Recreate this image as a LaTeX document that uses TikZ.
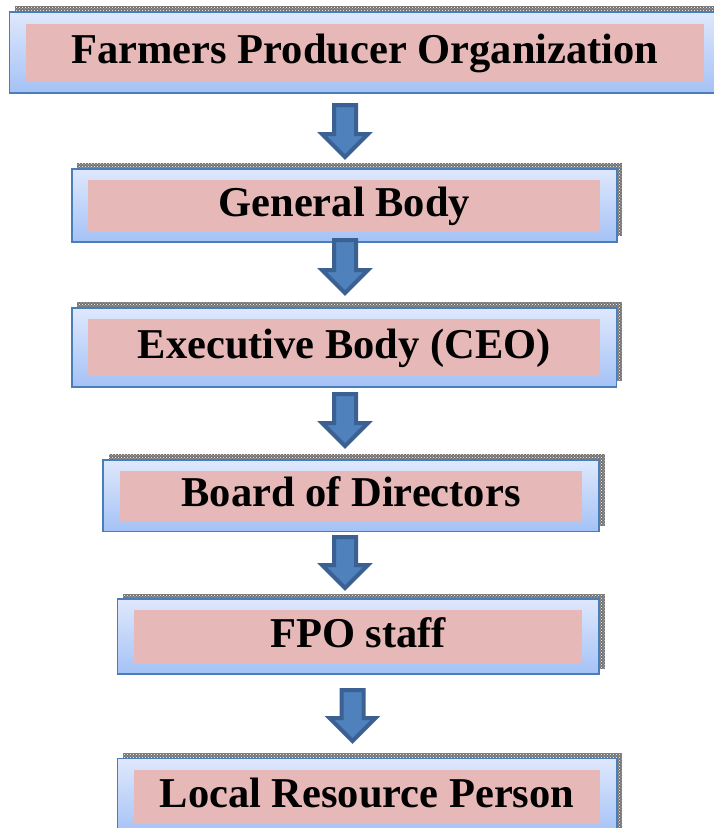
\documentclass[tikz,border=0pt]{standalone}
\usepackage{fontspec}
\setmainfont{Liberation Serif}
\usepackage{tikz}
\usetikzlibrary{calc}
\usetikzlibrary{patterns}
\definecolor{framehi}{HTML}{DFE8FC}
\definecolor{framelo}{HTML}{A4C2F6}
\definecolor{frameedge}{HTML}{4A7EBB}
\definecolor{labelpink}{HTML}{E6B8B7}
\definecolor{arrowfill}{HTML}{4F81BD}
\definecolor{arrowedge}{HTML}{3A6192}
\tikzset{
  boxframe/.style={rectangle, inner sep=0pt, draw=frameedge, line width=1.6pt, top color=framehi, bottom color=framelo,
    preaction={fill=black!55, transform canvas={shift={(5.5pt,5.5pt)}}},
    preaction={pattern=crosshatch dots, pattern color=white, transform canvas={shift={(5.5pt,5.5pt)}}}},
  labelbox/.style={rectangle, inner sep=0pt, fill=labelpink, text height=30pt, text depth=8pt,
    font=\bfseries\fontsize{42.5}{48}\selectfont},
  downarrow/.style={fill=arrowfill, draw=arrowedge, line width=4pt, line join=miter}
}
\newcommand{\blockarrow}[2]{ \draw[downarrow] ($(#1)+(-11,2)$) -- ($(#2)+(-11,-26)$) -- ($(#2)+(-23,-26)$) -- ($(#2)+(0,-3)$) -- ($(#2)+(23,-26)$) -- ($(#2)+(11,-26)$) -- ($(#1)+(11,2)$) -- cycle;}

\begin{document}
\begin{tikzpicture}[x=1pt,y=-1pt]
        \useasboundingbox (0,0) rectangle (714,828);
        % box1
        \node[boxframe, minimum width=711.4pt, minimum height=81pt] (fpo) at (365,52.2) {};
        \node[labelbox, minimum width=678pt, minimum height=57.3pt] (fpolabel) at (fpo) {Farmers Producer Organization};
        % box2
        \node[boxframe, minimum width=545pt, minimum height=73pt] (general) at (344.2,205.2) {};
        \node[labelbox, minimum width=512pt, minimum height=51pt] (generallabel) at (general) {General Body};
        % box3
        \node[boxframe, minimum width=544.7pt, minimum height=79pt] (ceo) at (344.3,347.2) {};
        \node[labelbox, minimum width=512pt, minimum height=57pt] (ceolabel) at (ceo) {Executive Body (CEO)};
        % box4
        \node[boxframe, minimum width=496pt, minimum height=71.7pt] (board) at (351,495.8) {};
        \node[labelbox, minimum width=461.7pt, minimum height=49.7pt] (boardlabel) at (board) {Board of Directors};
        % box5
        \node[boxframe, minimum width=481.7pt, minimum height=75pt] (staff) at (358.2,636.5) {};
        \node[labelbox, minimum width=447.7pt, minimum height=52.7pt] (stafflabel) at (staff) {FPO staff};
        % box6
        \node[boxframe, minimum width=499.4pt, minimum height=76pt] (lrp) at (367,796.3) {};
        \node[labelbox, minimum width=466pt, minimum height=52.7pt] (lrplabel) at (lrp) {Local Resource Person};
        % arrows
        \coordinate (a1top) at (345,103);
        \coordinate (a1tip) at (345,160);
        \coordinate (a2top) at (345,238);
        \coordinate (a2tip) at (345,296);
        \coordinate (a3top) at (345,392);
        \coordinate (a3tip) at (345,449);
        \coordinate (a4top) at (345,535);
        \coordinate (a4tip) at (345,591);
        \coordinate (a5top) at (352.5,688);
        \coordinate (a5tip) at (352.5,744);
        \blockarrow{a1top}{a1tip}
        \blockarrow{a2top}{a2tip}
        \blockarrow{a3top}{a3tip}
        \blockarrow{a4top}{a4tip}
        \blockarrow{a5top}{a5tip}
    \end{tikzpicture}
\end{document}
